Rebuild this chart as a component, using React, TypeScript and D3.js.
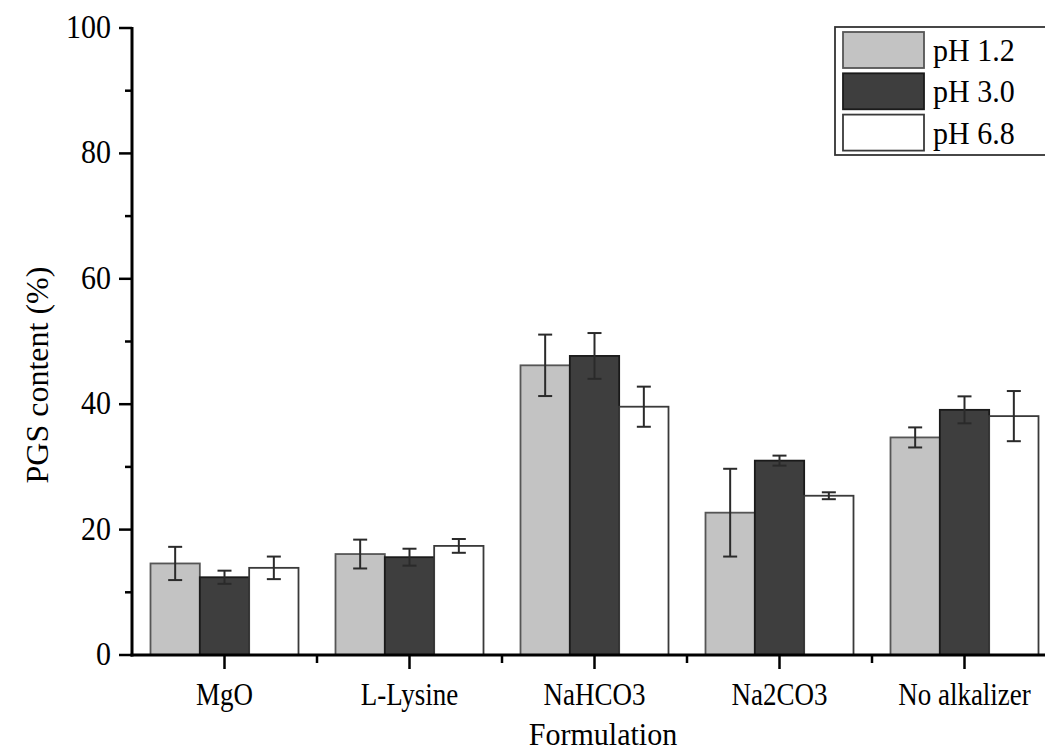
import React, { useEffect, useRef } from "react";
import * as d3 from "d3";

// Formulations on the x axis
const categories = ["MgO", "L-Lysine", "NaHCO3", "Na2CO3", "No alkalizer"];
// Dissolution media
const seriesNames = ["pH 1.2", "pH 3.0", "pH 6.8"];
// Mean PGS content (%) per formulation, one array per medium
const ph12Values = [14.6, 16.1, 46.2, 22.7, 34.7];
const ph30Values = [12.4, 15.6, 47.7, 31.0, 39.1];
const ph68Values = [13.9, 17.4, 39.6, 25.4, 38.1];
// Standard deviations
const ph12Errors = [2.65, 2.3, 4.9, 7.0, 1.6];
const ph30Errors = [1.05, 1.35, 3.65, 0.8, 2.15];
const ph68Errors = [1.8, 1.1, 3.2, 0.55, 4.0];
const yTicks = [0, 20, 40, 60, 80, 100];
const yMinorTicks = [10, 30, 50, 70, 90];

const fills = ["#c3c3c3", "#3e3e3e", "#ffffff"];
const strokes = ["#555555", "#1a1a1a", "#3a3a3a"];
const FONT = "Liberation Serif, Tinos, Times New Roman, DejaVu Serif, serif";

export default function App() {
  const ref = useRef<SVGSVGElement>(null);

  useEffect(() => {
    const svg = d3.select(ref.current);
    svg.selectAll("*").remove();

    const W = 1045;
    const H = 755;
    const left = 132;
    const bottom = 655;
    const top = 28;
    const step = 185;

    const values = [ph12Values, ph30Values, ph68Values];
    const errors = [ph12Errors, ph30Errors, ph68Errors];

    const x = d3
      .scaleLinear()
      .domain([0.5, categories.length + 0.5])
      .range([left, left + step * categories.length]);
    const y = d3.scaleLinear().domain([0, 100]).range([bottom, top]);

    const groupWidth = step * 0.8;
    const barWidth = groupWidth / 3;

    svg.append("rect").attr("width", W).attr("height", H).attr("fill", "#ffffff");

    const label = (
      parent: any,
      tx: number,
      ty: number,
      txt: string,
      size: number,
      anchor: string,
      sy = 1.12,
      rot = 0
    ) => {
      parent
        .append("text")
        .attr("transform", `translate(${tx},${ty}) rotate(${rot}) scale(1,${sy})`)
        .attr("text-anchor", anchor)
        .style("font-family", FONT)
        .attr("font-size", size)
        .attr("fill", "#000")
        .text(txt);
    };

    const plot = svg.append("g");

    // bars
    values.forEach((vals, s) => {
      plot
        .selectAll(`rect.s${s}`)
        .data(vals)
        .enter()
        .append("rect")
        .attr("x", (_, i) => x(i + 1) - groupWidth / 2 + s * barWidth)
        .attr("y", (d) => y(d))
        .attr("width", barWidth)
        .attr("height", (d) => y(0) - y(d))
        .attr("fill", fills[s])
        .attr("stroke", strokes[s])
        .attr("stroke-width", 1.8);
    });

    // error bars
    values.forEach((vals, s) => {
      vals.forEach((v, i) => {
        const cx = x(i + 1) - groupWidth / 2 + (s + 0.5) * barWidth;
        const e = errors[s][i];
        const g = plot.append("g").attr("stroke", "#2a2a2a").attr("stroke-width", 2);
        g.append("line").attr("x1", cx).attr("x2", cx).attr("y1", y(v + e)).attr("y2", y(v - e));
        g.append("line").attr("x1", cx - 7).attr("x2", cx + 7).attr("y1", y(v + e)).attr("y2", y(v + e));
        g.append("line").attr("x1", cx - 7).attr("x2", cx + 7).attr("y1", y(v - e)).attr("y2", y(v - e));
      });
    });

    // y axis
    const yAxis = svg.append("g");
    yAxis
      .append("line")
      .attr("x1", left)
      .attr("x2", left)
      .attr("y1", y(100) - 1)
      .attr("y2", bottom + 1.5)
      .attr("stroke", "#000")
      .attr("stroke-width", 3);
    yTicks.forEach((t) => {
      yAxis
        .append("line")
        .attr("x1", left - 13)
        .attr("x2", left)
        .attr("y1", y(t))
        .attr("y2", y(t))
        .attr("stroke", "#000")
        .attr("stroke-width", 2.5);
      label(yAxis, left - 21, y(t) + 10, String(t), 30, "end");
    });
    yMinorTicks.forEach((t) => {
      yAxis
        .append("line")
        .attr("x1", left - 7)
        .attr("x2", left)
        .attr("y1", y(t))
        .attr("y2", y(t))
        .attr("stroke", "#000")
        .attr("stroke-width", 2.5);
    });

    // x axis
    const xAxis = svg.append("g");
    xAxis
      .append("line")
      .attr("x1", left - 1.5)
      .attr("x2", W)
      .attr("y1", bottom)
      .attr("y2", bottom)
      .attr("stroke", "#000")
      .attr("stroke-width", 3);
    categories.forEach((c, i) => {
      const cx = x(i + 1);
      xAxis
        .append("line")
        .attr("x1", cx)
        .attr("x2", cx)
        .attr("y1", bottom)
        .attr("y2", bottom + 14)
        .attr("stroke", "#000")
        .attr("stroke-width", 2.5);
      xAxis
        .append("line")
        .attr("x1", x(i + 1.5))
        .attr("x2", x(i + 1.5))
        .attr("y1", bottom)
        .attr("y2", bottom + 8)
        .attr("stroke", "#000")
        .attr("stroke-width", 2.5);
      label(xAxis, cx, 705, c, 27, "middle", 1.15);
    });

    // axis titles
    label(svg, 48, 375, "PGS content (%)", 32, "middle", 1.0, -90);
    label(svg, 603, 745, "Formulation", 30, "middle", 1.05);

    // legend
    const lg = svg.append("g");
    lg.append("rect")
      .attr("x", 835)
      .attr("y", 27)
      .attr("width", 230)
      .attr("height", 128)
      .attr("fill", "#fff")
      .attr("stroke", "#333")
      .attr("stroke-width", 1.8);
    seriesNames.forEach((name, s) => {
      const ry = 32 + s * 41.3;
      lg.append("rect")
        .attr("x", 843)
        .attr("y", ry)
        .attr("width", 81)
        .attr("height", 36)
        .attr("fill", fills[s])
        .attr("stroke", strokes[s])
        .attr("stroke-width", 1.8);
      label(lg, 933, ry + 29, name, 30, "start", 1.05);
    });
  }, []);

  return (
    <svg
      ref={ref}
      width={1045}
      height={755}
      style={{ position: "absolute", left: 0, top: 0, display: "block" }}
    />
  );
}
